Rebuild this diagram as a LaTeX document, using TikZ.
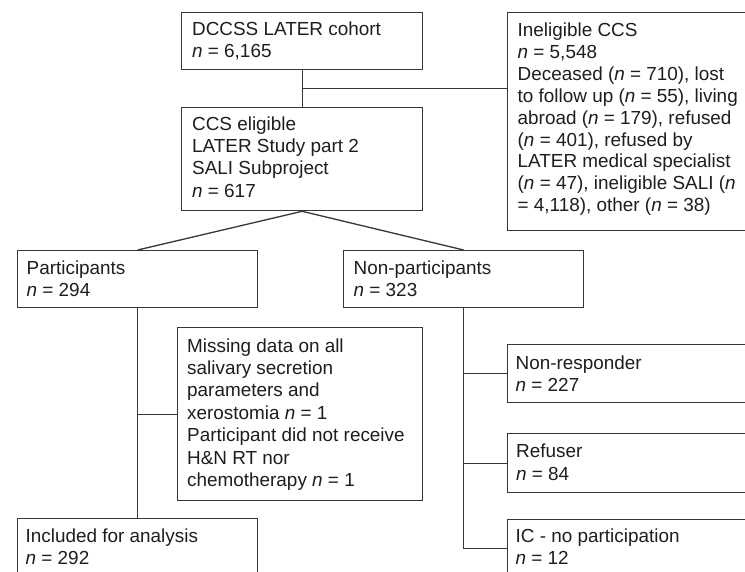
\documentclass[tikz,border=0pt]{standalone}
\usepackage{fontspec}
\setmainfont{Liberation Sans}
\usetikzlibrary{calc}
\definecolor{linec}{RGB}{55,55,55}
\definecolor{textc}{RGB}{30,30,30}
\tikzset{
  box/.style={draw=linec, line width=1.3pt, rectangle, inner sep=0pt, anchor=north west},
  txt/.style={inner sep=0pt, anchor=north west, align=left, text=textc,
    font=\fontsize{18.9}{22.4}\selectfont},
  conn/.style={draw=linec, line width=1.3pt}
}
\newcommand{\nn}{\textit{n}}
\begin{document}
\begin{tikzpicture}[x=1pt,y=-1pt]
\useasboundingbox (0,0) rectangle (745,572);
\fill[white] (0,0) rectangle (745,572);
\clip (0,0) rectangle (745,572);
% boxes
\node[box, minimum width=241pt, minimum height=57pt] (dcc) at (181,12) {};
\node[box, minimum width=241pt, minimum height=103pt] (ccs) at (181,107) {};
\node[box, minimum width=258pt, minimum height=218pt] (inel) at (507,12) {};
\node[box, minimum width=240pt, minimum height=57pt] (part) at (17,250) {};
\node[box, minimum width=240pt, minimum height=57pt] (npart) at (343,250) {};
\node[box, minimum width=245pt, minimum height=173pt] (miss) at (177,327) {};
\node[box, minimum width=240pt, minimum height=58pt] (incl) at (17,518) {};
\node[box, minimum width=258pt, minimum height=58pt] (nr) at (507,344) {};
\node[box, minimum width=258pt, minimum height=59pt] (ref) at (507,433) {};
\node[box, minimum width=258pt, minimum height=58pt] (ic) at (507,519) {};
% texts
\node[txt, xshift=11pt, yshift=-7.3pt] (dcct) at (dcc.north west) {\strut DCCSS LATER cohort\\\nn{} = 6,165};
\node[txt, xshift=11pt, yshift=-7.3pt] (ccst) at (ccs.north west) {\strut CCS eligible\\LATER Study part 2\\SALI Subproject\\\nn{} = 617};
\node[txt, font=\fontsize{18.9}{21.9}\selectfont, xshift=10.5pt, yshift=-9pt] (inelt) at (inel.north west) {\strut Ineligible CCS\\\nn{} = 5,548\\Deceased (\nn{} = 710), lost\\to follow up (\nn{} = 55), living\\abroad (\nn{} = 179), refused\\(\nn{} = 401), refused by\\LATER medical specialist\\(\nn{} = 47), ineligible SALI (\nn\\= 4,118), other (\nn{} = 38)};
\node[txt, xshift=9.5pt, yshift=-8.3pt] (partt) at (part.north west) {\strut Participants\\\nn{} = 294};
\node[txt, xshift=10.5pt, yshift=-8.3pt] (npartt) at (npart.north west) {\strut Non-participants\\\nn{} = 323};
\node[txt, xshift=10pt, yshift=-9.3pt] (misst) at (miss.north west) {\strut Missing data on all\\salivary secretion\\parameters and\\xerostomia \nn{} = 1\\Participant did not receive\\H\&N RT nor\\chemotherapy \nn{} = 1};
\node[txt, xshift=8.5pt, yshift=-8.3pt] (inclt) at (incl.north west) {\strut Included for analysis\\\nn{} = 292};
\node[txt, xshift=8.5pt, yshift=-9.3pt] (nrt) at (nr.north west) {\strut Non-responder\\\nn{} = 227};
\node[txt, xshift=9pt, yshift=-9pt] (reft) at (ref.north west) {\strut Refuser\\\nn{} = 84};
\node[txt, xshift=8.5pt, yshift=-7.3pt] (ict) at (ic.north west) {\strut IC - no participation\\\nn{} = 12};
% connectors
\draw[conn] (dcc.south) -- (ccs.north);
\coordinate (j1) at ($(dcc.south)!0.5!(ccs.north)$);
\draw[conn] (j1) -- (j1 -| inel.west);
\draw[conn] (ccs.south) -- (part.north);
\draw[conn] (ccs.south) -- (npart.north);
\draw[conn] (part.south) -- (incl.north);
\draw[conn] (part.south |- miss.west) -- (miss.west);
\draw[conn] (npart.south) |- (ic.west);
\draw[conn] (npart.south |- nr.west) -- (nr.west);
\draw[conn] (npart.south |- ref.west) -- (ref.west);
\end{tikzpicture}
\end{document}
